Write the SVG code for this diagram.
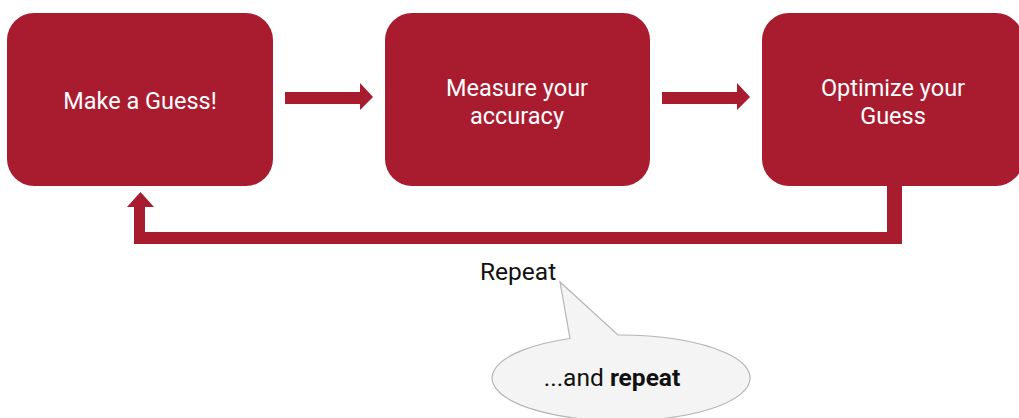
<svg xmlns="http://www.w3.org/2000/svg" width="1019" height="418" viewBox="0 0 1019 418">
  <style>
    .box { fill: #a91c30; }
    .lbl { font-family: Roboto, "Open Sans", "Liberation Sans", sans-serif; font-size: 23.5px; fill: #ffffff; text-anchor: middle; }
    .link { fill: #a91c30; }
    .note { font-family: Roboto, "Open Sans", "Liberation Sans", sans-serif; font-size: 24.5px; fill: #111111; }
  </style>
  <rect width="1019" height="418" fill="#ffffff"/>

  <g id="node-guess">
    <rect class="box" x="7" y="13" width="266" height="173" rx="27"/>
    <text class="lbl" x="140" y="109">Make a Guess!</text>
  </g>
  <g id="node-measure">
    <rect class="box" x="385" y="13" width="265" height="173" rx="27"/>
    <text class="lbl"><tspan x="517" y="96">Measure your</tspan><tspan x="517" y="124">accuracy</tspan></text>
  </g>
  <g id="node-optimize">
    <rect class="box" x="762" y="13" width="261" height="173" rx="27"/>
    <text class="lbl"><tspan x="893" y="96">Optimize your</tspan><tspan x="893" y="124">Guess</tspan></text>
  </g>

  <g id="connectors">
    <!-- guess -> measure -->
    <polygon class="link" points="285,92 360,92 360,83 373,97 360,110 360,104 285,104"/>
    <!-- measure -> optimize -->
    <polygon class="link" points="662,92 737,92 737,83 750,97 737,110 737,104 662,104"/>
    <!-- loop back: optimize -> guess -->
    <polygon class="link" points="887,186 902,186 902,244 134,244 134,207 127,207 140.5,192 154,207 145,207 145,232 887,232"/>
  </g>

  <g id="repeat-label">
    <text class="note" x="480" y="280">Repeat</text>
  </g>

  <g id="callout">
    <!-- speech bubble: ellipse centred at (621,378), rx 129, ry 43, with a tail up to (560,282) -->
    <path d="M570,338.5 L560,282 L618,335 A129,43 0 1 1 570,338.5 Z" fill="#f4f4f4" stroke="#b5b5b5" stroke-width="1.2"/>
    <text class="note" x="612" y="386" text-anchor="middle">...and <tspan font-weight="bold">repeat</tspan></text>
  </g>
</svg>
